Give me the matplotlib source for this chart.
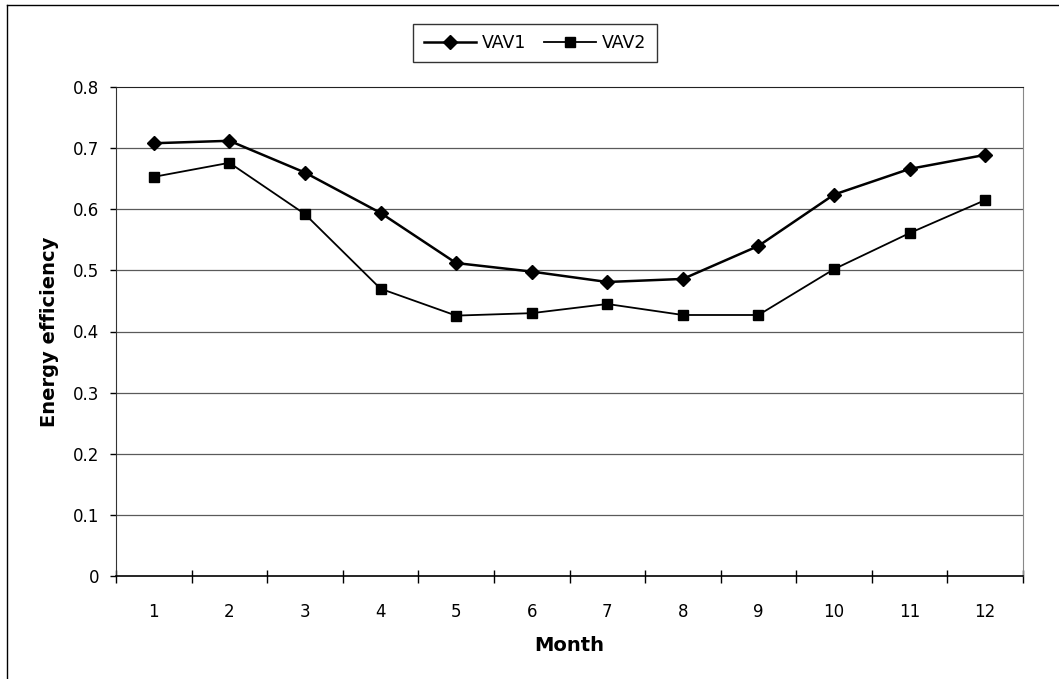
import matplotlib
matplotlib.use("Agg")
import matplotlib.pyplot as plt
from matplotlib.lines import Line2D

plt.rcParams["font.family"] = ["DejaVu Sans"]

months = list(range(1, 13))
month_labels = [str(m) for m in months]
vav1 = [0.708, 0.712, 0.660, 0.594, 0.512, 0.498, 0.481, 0.486, 0.540, 0.624, 0.666, 0.689]
vav2 = [0.653, 0.676, 0.592, 0.470, 0.426, 0.430, 0.445, 0.427, 0.427, 0.502, 0.561, 0.615]
y_ticks = [0, 0.1, 0.2, 0.3, 0.4, 0.5, 0.6, 0.7, 0.8]
y_labels = ["0", "0.1", "0.2", "0.3", "0.4", "0.5", "0.6", "0.7", "0.8"]

W, H = 1059, 679
PX = 72 / 100  # points per pixel at dpi 100
fig = plt.figure(figsize=(W / 100, H / 100), dpi=100)
ax = fig.add_axes([116 / W, 1 - 576 / H, (1023 - 116) / W, (576 - 87) / H])

ax.plot(months, vav1, color="black", lw=1.8, marker="D", ms=7.5, label="VAV1")
ax.plot(months, vav2, color="black", lw=1.3, marker="s", ms=6.5, label="VAV2")

ax.set_xlim(0.5, 12.5)
ax.set_ylim(0, 0.8)
ax.set_yticks(y_ticks)
ax.set_yticklabels(y_labels)
ax.set_xticks(months)
ax.set_xticklabels(month_labels)
ax.set_xticks([m + 0.5 for m in [0] + months], minor=True)
ax.tick_params(axis="x", which="major", length=0, labelsize=12, pad=27 * PX)
ax.tick_params(axis="x", which="minor", direction="inout", length=13 * PX, width=1)
ax.tick_params(axis="y", direction="out", length=6 * PX, width=1, labelsize=12, pad=11 * PX)

for t in y_ticks[1:-1]:
    ax.axhline(t, color="#5a5a5a", lw=0.9, zorder=0)

ax.spines["left"].set_color("#333333")
ax.spines["bottom"].set_color("black")
ax.spines["bottom"].set_linewidth(1.2)
ax.spines["top"].set_color("#222222")
ax.spines["right"].set_color("#888888")

ax.set_xlabel("Month", fontsize=14, fontweight="bold")
ax.set_ylabel("Energy efficiency", fontsize=14, fontweight="bold")
ax.xaxis.set_label_coords(0.5, -(636 - 576) / 489)
ax.yaxis.set_label_coords((59 - 116) / 907, 0.5)

leg = ax.legend(loc="center", bbox_to_anchor=(535 / W, 1 - 43 / H),
                bbox_transform=fig.transFigure, ncol=2, frameon=True,
                fancybox=False, edgecolor="black", fontsize=12.5,
                handlelength=3.0, handletextpad=0.35, columnspacing=1.0,
                borderpad=0.6, borderaxespad=0)
leg.get_frame().set_linewidth(1.0)

# outer border of the chart area
fig.add_artist(Line2D([7 / W, 7 / W], [0, 1 - 5 / H], transform=fig.transFigure, color="black", lw=1))
fig.add_artist(Line2D([7 / W, 1 - 0.5 / W], [1 - 5 / H, 1 - 5 / H], transform=fig.transFigure, color="black", lw=1))

fig.savefig("out.png", dpi=100)
